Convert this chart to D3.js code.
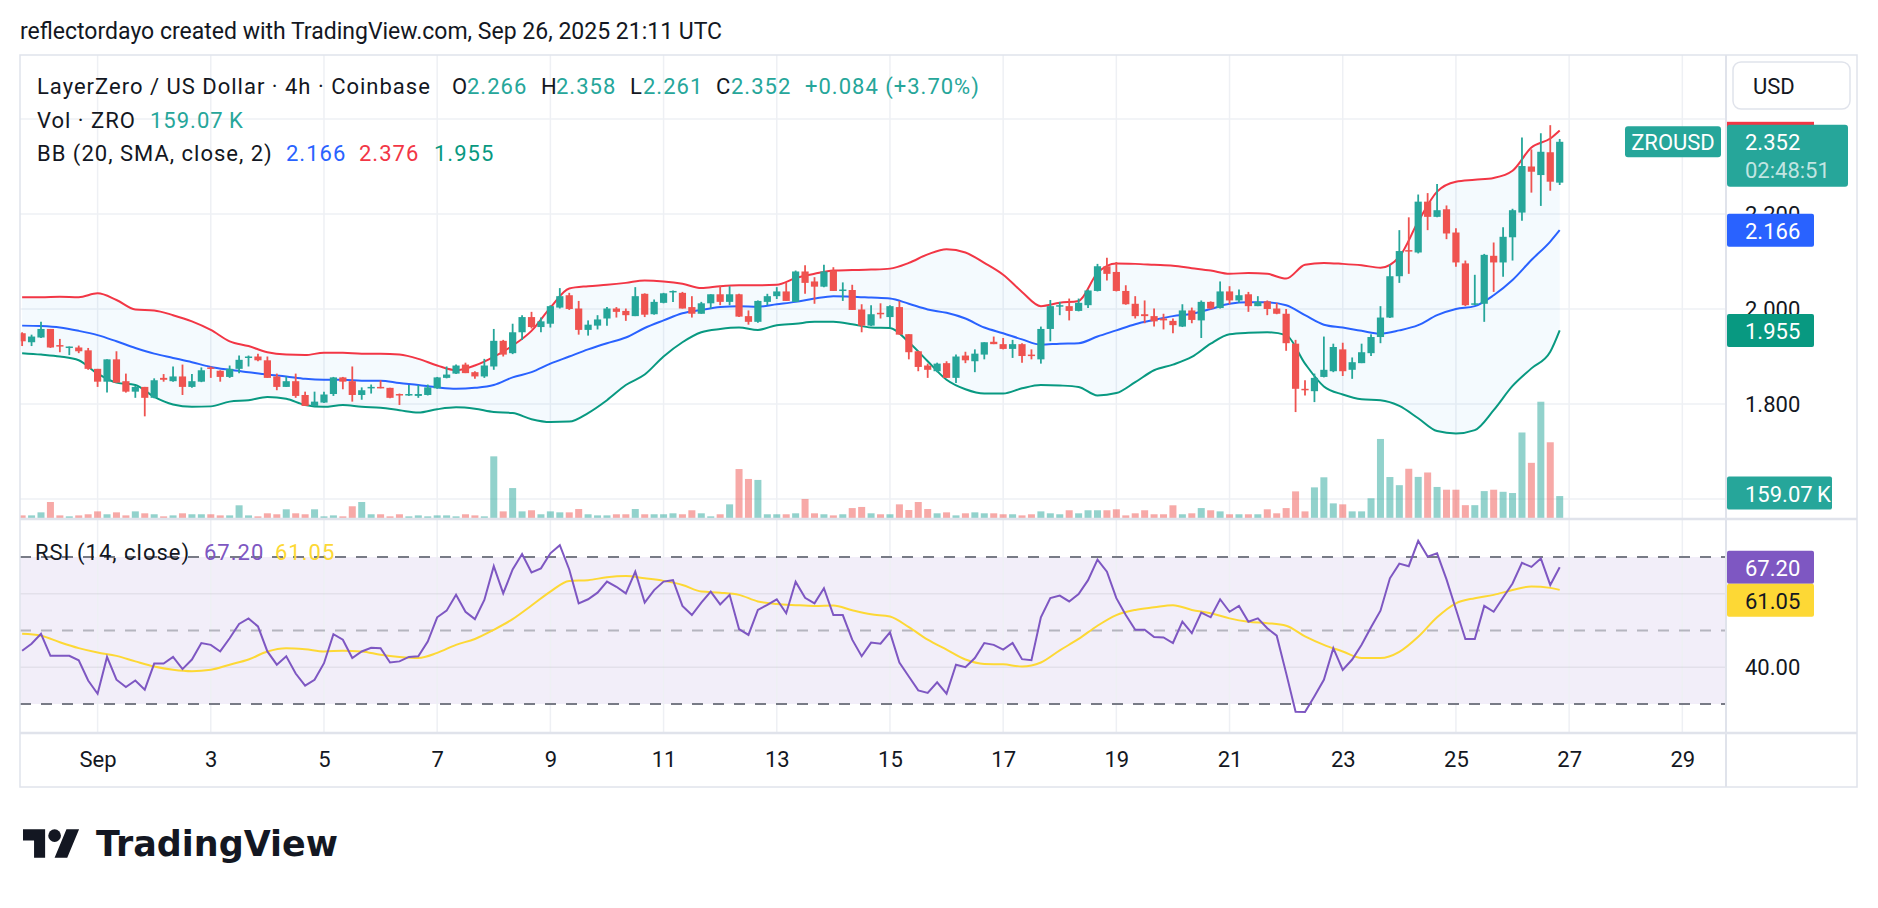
<!DOCTYPE html>
<html><head><meta charset="utf-8">
<script src="https://cdn.jsdelivr.net/npm/d3@7"></script>
<style>html,body{margin:0;padding:0;background:#fff;}svg{display:block;}</style>
</head><body>
<svg id="c" width="1878" height="908"></svg>
<script>
// ---------------- DATA ----------------
const firstCandleUTC = "2025-08-30T16:00:00Z"; // 4h candles
const open = [
1.949,1.930,1.940,1.958,1.924,1.918,1.919,1.913,1.874,1.847,
1.894,1.848,1.826,1.836,1.813,1.855,1.848,1.858,1.836,1.847,
1.877,1.870,1.857,1.874,1.897,1.900,1.892,1.858,1.836,1.848,
1.819,1.796,1.803,1.821,1.856,1.848,1.819,1.833,1.836,1.834,
1.821,1.818,1.817,1.819,1.833,1.855,1.864,1.883,1.867,1.858,
1.879,1.933,1.907,1.951,1.983,1.962,1.969,2.003,2.029,2.001,
1.956,1.965,1.980,2.001,1.996,1.985,2.032,1.989,2.013,2.035,
2.034,2.004,1.990,2.012,2.031,2.015,2.031,1.985,1.973,2.015,
2.027,2.037,2.015,2.079,2.058,2.047,2.081,2.039,2.040,1.999,
1.965,1.992,1.983,2.004,1.947,1.911,1.881,1.869,1.886,1.855,
1.902,1.890,1.904,1.931,1.926,1.916,1.926,1.904,1.894,1.958,
2.006,2.006,1.996,2.008,2.038,2.090,2.078,2.038,2.011,1.989,
1.985,1.980,1.975,1.963,1.997,1.976,2.015,2.002,2.037,2.018,
2.031,2.006,2.016,2.001,1.990,1.927,1.832,1.827,1.857,1.869,
1.915,1.872,1.886,1.907,1.941,1.982,2.069,2.124,2.119,2.226,
2.194,2.210,2.161,2.096,2.009,2.011,2.112,2.098,2.151,2.203,
2.300,2.282,2.330,2.266];
const high = [
1.951,1.946,1.973,1.958,1.937,1.921,1.923,1.918,1.874,1.894,
1.911,1.864,1.838,1.836,1.854,1.863,1.879,1.883,1.863,1.877,
1.879,1.871,1.881,1.902,1.902,1.906,1.900,1.864,1.858,1.864,
1.826,1.826,1.826,1.857,1.857,1.879,1.835,1.841,1.850,1.834,
1.822,1.840,1.840,1.841,1.857,1.879,1.883,1.887,1.869,1.895,
1.958,1.935,1.969,1.987,1.994,1.982,2.008,2.044,2.034,2.017,
1.976,1.987,2.004,2.004,2.001,2.046,2.033,2.020,2.034,2.039,
2.036,2.027,2.015,2.031,2.049,2.048,2.032,1.997,2.018,2.032,
2.046,2.055,2.081,2.092,2.067,2.093,2.088,2.056,2.051,2.010,
2.008,2.012,2.008,2.017,1.947,1.912,1.885,1.887,1.890,1.904,
1.910,1.915,1.930,1.942,1.939,1.935,1.928,1.915,1.963,2.019,
2.015,2.022,2.022,2.041,2.095,2.108,2.099,2.050,2.027,2.018,
2.001,1.990,1.980,2.010,2.003,2.018,2.016,2.058,2.048,2.041,
2.036,2.027,2.018,2.013,2.000,1.935,1.850,1.864,1.942,1.927,
1.929,1.898,1.927,1.947,2.006,2.093,2.166,2.193,2.241,2.244,
2.263,2.218,2.170,2.102,2.072,2.116,2.140,2.172,2.211,2.361,
2.336,2.370,2.387,2.358];
const low = [
1.922,1.922,1.939,1.918,1.909,1.903,1.907,1.872,1.836,1.824,
1.845,1.824,1.813,1.774,1.812,1.847,1.847,1.819,1.834,1.846,
1.855,1.847,1.855,1.865,1.879,1.890,1.855,1.829,1.836,1.813,
1.796,1.795,1.802,1.817,1.831,1.805,1.809,1.822,1.833,1.812,
1.798,1.817,1.813,1.818,1.832,1.854,1.863,1.865,1.853,1.855,
1.872,1.900,1.905,1.935,1.959,1.951,1.961,2.001,1.998,1.946,
1.944,1.957,1.965,1.982,1.975,1.985,1.983,1.988,2.012,2.015,
2.001,1.982,1.990,2.001,2.008,2.008,1.983,1.967,1.971,2.008,
2.021,2.017,2.015,2.032,2.011,2.046,2.038,2.017,1.998,1.951,
1.964,1.980,1.962,1.946,1.894,1.869,1.855,1.867,1.855,1.844,
1.886,1.867,1.894,1.926,1.915,1.897,1.887,1.894,1.885,1.932,
1.987,1.976,1.995,2.002,2.037,2.060,2.037,2.009,1.980,1.970,
1.963,1.957,1.949,1.962,1.970,1.939,1.999,2.001,2.010,2.013,
1.994,2.006,1.987,1.989,1.912,1.783,1.818,1.804,1.856,1.867,
1.859,1.853,1.886,1.901,1.928,1.981,2.055,2.074,2.117,2.166,
2.193,2.147,2.089,2.006,2.008,1.973,2.036,2.068,2.102,2.186,
2.245,2.217,2.249,2.261];
const close = [
1.932,1.942,1.958,1.919,1.921,1.921,1.911,1.874,1.847,1.894,
1.845,1.826,1.836,1.813,1.850,1.851,1.858,1.836,1.848,1.871,
1.874,1.857,1.874,1.893,1.900,1.892,1.855,1.836,1.848,1.817,
1.796,1.805,1.820,1.856,1.847,1.819,1.829,1.836,1.833,1.813,
1.818,1.821,1.821,1.835,1.856,1.862,1.881,1.865,1.858,1.881,
1.933,1.904,1.951,1.983,1.962,1.974,2.006,2.027,2.000,1.956,
1.967,1.978,2.001,1.994,1.987,2.027,1.988,2.015,2.033,2.038,
2.001,1.990,2.012,2.031,2.015,2.031,1.984,1.973,2.017,2.027,
2.037,2.017,2.079,2.055,2.047,2.079,2.038,2.041,1.998,1.965,
1.989,1.989,2.006,1.946,1.909,1.878,1.872,1.885,1.855,1.900,
1.892,1.906,1.930,1.926,1.916,1.926,1.901,1.901,1.958,2.006,
2.008,1.996,2.013,2.039,2.090,2.074,2.038,2.010,1.985,1.985,
1.974,1.976,1.966,1.997,1.977,2.015,2.001,2.037,2.018,2.029,
2.006,2.015,2.000,1.990,1.928,1.832,1.830,1.855,1.872,1.920,
1.869,1.888,1.909,1.941,1.982,2.069,2.122,2.121,2.226,2.194,
2.208,2.159,2.098,2.008,2.012,2.114,2.098,2.152,2.208,2.301,
2.289,2.331,2.268,2.352];
// volume in thousands of ZRO
const volume = [
19,19,41,116,19,12,19,27,48,27,
41,19,48,34,27,12,19,34,27,27,
27,19,19,92,19,12,34,27,63,34,
27,63,12,19,12,85,116,27,27,12,
27,12,19,12,19,19,12,27,19,12,
447,48,217,48,56,27,48,41,41,65,
27,19,19,27,27,65,27,27,27,34,
27,56,34,12,27,99,355,283,276,27,
27,27,34,138,34,27,19,27,72,80,
34,27,27,99,58,116,65,34,41,19,
34,41,34,34,27,27,19,27,48,34,
27,56,34,56,56,56,63,19,34,56,
27,27,92,27,34,72,56,48,27,27,
27,27,63,34,72,193,48,222,295,106,
99,48,48,143,573,297,238,357,298,330,
225,205,205,93,93,195,205,190,181,620,
400,843,549,159.07];
// Bollinger Bands (20, SMA, close, 2): sampled at every 2nd candle (0,2,...,162) plus the last candle (163)
const bbUpper = [
2.025,2.025,2.026,2.025,2.033,2.019,1.999,1.997,1.987,1.974,
1.956,1.932,1.922,1.909,1.904,1.903,1.908,1.908,1.906,1.906,
1.904,1.895,1.881,1.871,1.881,1.899,1.923,1.954,2.003,2.043,
2.048,2.051,2.055,2.060,2.058,2.053,2.044,2.048,2.050,2.050,
2.051,2.065,2.074,2.081,2.082,2.083,2.085,2.097,2.115,2.126,
2.119,2.097,2.072,2.036,2.006,2.013,2.017,2.076,2.096,2.095,
2.093,2.091,2.086,2.081,2.074,2.076,2.074,2.064,2.093,2.097,
2.095,2.092,2.087,2.110,2.184,2.247,2.268,2.272,2.276,2.291,
2.340,2.359,2.376];
const bbBasis = [
1.965,1.964,1.961,1.954,1.945,1.932,1.918,1.906,1.897,1.888,
1.878,1.872,1.867,1.862,1.858,1.853,1.851,1.851,1.849,1.849,
1.844,1.840,1.835,1.832,1.834,1.840,1.856,1.867,1.885,1.900,
1.915,1.928,1.940,1.960,1.976,1.991,1.998,2.004,2.006,2.005,
2.010,2.015,2.022,2.027,2.026,2.024,2.022,2.011,1.999,1.992,
1.980,1.961,1.949,1.936,1.925,1.927,1.928,1.942,1.955,1.968,
1.977,1.985,1.990,2.000,2.011,2.014,2.014,2.008,1.987,1.967,
1.961,1.954,1.948,1.955,1.966,1.987,2.000,2.006,2.029,2.061,
2.103,2.142,2.166];
const bbLower = [
1.907,1.904,1.900,1.892,1.864,1.845,1.840,1.815,1.799,1.794,
1.795,1.805,1.808,1.815,1.811,1.798,1.794,1.798,1.794,1.792,
1.787,1.782,1.789,1.793,1.790,1.783,1.781,1.768,1.762,1.763,
1.781,1.808,1.840,1.862,1.900,1.930,1.951,1.958,1.961,1.956,
1.966,1.969,1.973,1.973,1.968,1.961,1.960,1.930,1.890,1.851,
1.831,1.822,1.822,1.833,1.840,1.839,1.836,1.818,1.823,1.846,
1.871,1.883,1.899,1.927,1.947,1.950,1.951,1.945,1.885,1.837,
1.820,1.810,1.808,1.796,1.770,1.743,1.738,1.745,1.787,1.838,
1.875,1.910,1.955];
// RSI (14, close), one value per candle
const rsi = [
44.5,46.4,49.1,43.1,43.1,43.1,41.9,36.4,32.8,42.8,
36.6,34.6,36.4,33.9,41.0,41.0,42.8,39.5,42.1,46.6,
46.1,44.3,47.9,51.8,53.3,51.1,44.3,40.7,43.0,38.3,
35.0,36.6,41.1,49.0,47.5,42.5,44.3,45.3,45.2,41.3,
41.6,42.8,43.0,47.0,53.6,55.4,59.7,55.1,53.1,58.3,
67.5,60.1,66.6,70.8,65.8,66.9,71.0,73.2,66.6,57.4,
58.5,60.3,63.3,61.9,60.1,66.0,57.6,61.0,63.3,63.7,
56.7,54.2,57.6,60.6,57.1,59.7,50.4,48.8,55.6,57.0,
58.5,54.7,63.3,58.9,57.4,61.5,54.2,54.2,47.5,43.0,
46.7,46.4,49.5,41.3,37.5,33.7,33.0,35.9,32.8,40.7,
40.0,42.5,46.6,46.1,44.8,46.6,42.2,41.9,53.6,58.8,
59.5,57.9,59.9,63.7,69.3,66.0,58.8,54.2,50.2,50.2,
48.2,48.1,46.6,52.4,49.3,54.9,53.6,58.5,55.1,56.7,
52.4,53.3,50.6,48.6,38.4,27.9,27.8,32.1,36.6,45.2,
39.3,42.1,46.1,50.9,55.4,64.2,68.2,67.5,74.4,70.1,
71.0,63.9,55.8,47.7,47.7,56.7,55.1,59.0,62.8,68.4,
67.3,69.6,62.4,67.2];
// RSI-based MA, sampled like the bands (every 2nd candle + last)
const rsiMA = [
49.1,48.6,46.8,45.2,44.0,43.1,41.6,40.2,39.3,38.9,
39.3,40.7,42.1,44.3,45.2,44.9,44.3,44.5,44.3,43.4,
42.8,42.5,43.9,46.1,47.7,50.2,53.1,56.8,60.6,63.5,
63.7,64.5,64.8,64.2,63.5,62.4,60.6,60.3,59.7,57.9,
57.2,56.9,56.7,56.8,55.5,54.4,53.8,50.9,47.5,44.8,
42.1,40.9,40.8,40.2,41.3,44.6,47.7,51.3,54.2,55.6,
56.3,56.9,55.6,54.7,53.3,52.4,52.0,51.3,48.4,46.1,
44.3,42.5,42.5,44.2,48.3,53.6,57.4,58.8,59.7,61.0,
62.0,61.6,61.05];
const tickDays = [1,3,5,7,9,11,13,15,17,19,21,23,25,27,29];
const tickLabels = ["Sep","3","5","7","9","11","13","15","17","19","21","23","25","27","29"];
const priceGrid = [1.6,1.8,2.0,2.2,2.4];
const priceTicks = [1.8,2.0,2.2];
const rsiGrid = [40,60];
const rsiTicks = [40];
const rsiLevels = [70,50,30];
const lastQuote = {o:"2.266", h:"2.358", l:"2.261", c:"2.352", chg:"+0.084 (+3.70%)", vol:"159.07\u2009K", countdown:"02:48:51"};

// ---------------- LAYOUT ----------------
const FONT = 'Roboto, "Noto Sans", "DejaVu Sans", sans-serif';
const TXT = '#131722', GRID = '#eef0f4', BORDER = '#e0e3eb';
const UP = '#26a69a', DOWN = '#ef5350';
const L = 20, R = 1725, AXR = 1857, PT = 55, PB = 518, RT = 520, RB = 733, TB = 787;

const svg = d3.select('#c');
const t0 = new Date(firstCandleUTC).getTime();
const H4 = 4 * 3600e3, DAY = 864e5, SEP1 = Date.UTC(2025, 8, 1);
const n = close.length;
const dates = d3.range(n).map(i => new Date(t0 + i * H4));
const bbIdx = bbUpper.map((_, k) => k < bbUpper.length - 1 ? 2 * k : n - 1);

const x = d3.scaleUtc().domain([new Date(SEP1 - 1.371 * DAY), new Date(SEP1 + 28.754 * DAY)]).range([L, R]);
const y = d3.scaleLinear().domain([1.6, 2.4]).range([499, 119]);
const yv = d3.scaleLinear().domain([0, 870]).range([PB, PB - 120]);
const yr = d3.scaleLinear().domain([30, 70]).range([704, 557]);

const defs = svg.append('defs');
defs.append('clipPath').attr('id', 'cp').append('rect').attr('x', L).attr('y', PT).attr('width', R - L).attr('height', PB - PT);
defs.append('clipPath').attr('id', 'cr').append('rect').attr('x', L).attr('y', RT).attr('width', R - L).attr('height', RB - RT);

svg.append('rect').attr('width', 1878).attr('height', 908).attr('fill', '#fff');

// title
svg.append('text').attr('x', 20).attr('y', 31).attr('dominant-baseline', 'central')
  .attr('font-family', FONT).attr('font-size', 23).attr('fill', TXT)
  .text('reflectordayo created with TradingView.com, Sep 26, 2025 21:11 UTC');

const tickDates = tickDays.map(d => new Date(Date.UTC(2025, 8, d)));

// grids
const grid = svg.append('g');
grid.selectAll('line.vx').data(tickDates).join('line')
  .attr('x1', d => x(d)).attr('x2', d => x(d)).attr('y1', PT).attr('y2', RB)
  .attr('stroke', GRID).attr('stroke-width', 1.5);
grid.selectAll('line.hp').data(priceGrid).join('line')
  .attr('x1', L).attr('x2', R).attr('y1', d => y(d)).attr('y2', d => y(d))
  .attr('stroke', GRID).attr('stroke-width', 1.5);

// RSI band background
svg.append('rect').attr('x', L).attr('width', R - L).attr('y', yr(70)).attr('height', yr(30) - yr(70))
  .attr('fill', 'rgba(126,87,194,0.1)');
grid.raise();
svg.append('g').selectAll('line').data(rsiGrid).join('line')
  .attr('x1', L).attr('x2', R).attr('y1', d => yr(d)).attr('y2', d => yr(d))
  .attr('stroke', 'rgba(120,123,134,0.12)').attr('stroke-width', 1.5);

// price pane
const gp = svg.append('g').attr('clip-path', 'url(#cp)');
const bx = k => x(dates[bbIdx[k]]);
gp.append('path').datum(bbUpper)
  .attr('d', d3.area().x((d, k) => bx(k)).y0((d, k) => y(bbLower[k])).y1(d => y(d)).curve(d3.curveMonotoneX))
  .attr('fill', 'rgba(33,150,243,0.05)');
[[bbUpper, '#f23645'], [bbBasis, '#2962ff'], [bbLower, '#089981']].forEach(([arr, col]) => {
  gp.append('path').datum(arr)
    .attr('d', d3.line().x((d, k) => bx(k)).y(d => y(d)).curve(d3.curveMonotoneX))
    .attr('fill', 'none').attr('stroke', col).attr('stroke-width', 2);
});
// volume
gp.selectAll('rect.vol').data(d3.range(n)).join('rect')
  .attr('x', i => x(dates[i]) - 3.5).attr('width', 7)
  .attr('y', i => yv(volume[i])).attr('height', i => yv(0) - yv(volume[i]))
  .attr('fill', i => close[i] >= open[i] ? 'rgba(38,166,154,0.5)' : 'rgba(239,83,80,0.5)');
// candles
const cg = gp.selectAll('g.c').data(d3.range(n)).join('g');
cg.append('line')
  .attr('x1', i => x(dates[i])).attr('x2', i => x(dates[i]))
  .attr('y1', i => y(high[i])).attr('y2', i => y(low[i]))
  .attr('stroke', i => close[i] >= open[i] ? UP : DOWN).attr('stroke-width', 1.8);
cg.append('rect')
  .attr('x', i => x(dates[i]) - 3.6).attr('width', 7.2)
  .attr('y', i => y(Math.max(open[i], close[i])))
  .attr('height', i => Math.max(1.5, Math.abs(y(open[i]) - y(close[i]))))
  .attr('fill', i => close[i] >= open[i] ? UP : DOWN);

// RSI pane
const gr = svg.append('g').attr('clip-path', 'url(#cr)');
gr.selectAll('line.lv').data(rsiLevels).join('line')
  .attr('x1', L).attr('x2', R).attr('y1', d => yr(d)).attr('y2', d => yr(d))
  .attr('stroke', d => d === 50 ? 'rgba(120,123,134,0.5)' : '#787b86')
  .attr('stroke-width', 2).attr('stroke-dasharray', '11,10');
gr.append('path').datum(rsiMA)
  .attr('d', d3.line().x((d, k) => bx(k)).y(d => yr(d)).curve(d3.curveMonotoneX))
  .attr('fill', 'none').attr('stroke', '#fdd835').attr('stroke-width', 2);
gr.append('path').datum(rsi)
  .attr('d', d3.line().x((d, i) => x(dates[i])).y(d => yr(d)))
  .attr('fill', 'none').attr('stroke', '#7e57c2').attr('stroke-width', 2);

// frame lines
const fr = svg.append('g').attr('stroke', BORDER).attr('fill', 'none');
fr.append('rect').attr('x', L).attr('y', PT).attr('width', AXR - L).attr('height', TB - PT).attr('stroke-width', 1.5);
fr.append('line').attr('x1', L).attr('x2', AXR).attr('y1', PB + 1).attr('y2', PB + 1).attr('stroke-width', 2.5);
fr.append('line').attr('x1', L).attr('x2', AXR).attr('y1', RB).attr('y2', RB).attr('stroke-width', 2.5);
fr.append('line').attr('x1', R + 1).attr('x2', R + 1).attr('y1', PT).attr('y2', TB).attr('stroke-width', 2);

// axes
function styleAxis(g) {
  g.select('.domain').remove();
  g.selectAll('text').attr('font-family', FONT).attr('font-size', 22).attr('fill', TXT);
}
svg.append('g').attr('transform', `translate(0,${RB})`)
  .call(d3.axisBottom(x).tickValues(tickDates).tickFormat((d, i) => tickLabels[i]).tickSize(0).tickPadding(18))
  .call(styleAxis);
svg.append('g').attr('transform', 'translate(1745,0)')
  .call(d3.axisRight(y).tickValues(priceTicks).tickFormat(d3.format('.3f')).tickSize(0).tickPadding(0))
  .call(styleAxis);
svg.append('g').attr('transform', 'translate(1745,0)')
  .call(d3.axisRight(yr).tickValues(rsiTicks).tickFormat(d3.format('.2f')).tickSize(0).tickPadding(0))
  .call(styleAxis);

// axis labels (boxes)
function tag(yc, w, fill, text, color) {
  const h = 33, top = yc - h / 2;
  svg.append('rect').attr('x', 1727).attr('y', top).attr('width', w).attr('height', h).attr('rx', 2).attr('fill', fill);
  svg.append('text').attr('x', 1745).attr('y', yc + 1).attr('dominant-baseline', 'central')
    .attr('font-family', FONT).attr('font-size', 22).attr('fill', color).text(text);
  return top + h;
}
const lastY = y(+lastQuote.c);
// upper band tag (mostly hidden behind last price tag)
svg.append('rect').attr('x', 1727).attr('y', lastY - 20).attr('width', 87).attr('height', 24).attr('fill', '#f23645');
tag(y(bbBasis[bbBasis.length - 1]), 87, '#2962ff', d3.format('.3f')(bbBasis[bbBasis.length - 1]), '#fff');
tag(y(bbLower[bbLower.length - 1]), 87, '#089981', d3.format('.3f')(bbLower[bbLower.length - 1]), '#fff');
tag(yv(volume[n - 1]) - 3, 105, UP, lastQuote.vol, '#fff');
// last price tag with countdown
svg.append('rect').attr('x', 1727).attr('y', lastY - 17).attr('width', 121).attr('height', 62).attr('rx', 3).attr('fill', UP);
svg.append('text').attr('x', 1745).attr('y', lastY + 1).attr('dominant-baseline', 'central')
  .attr('font-family', FONT).attr('font-size', 22).attr('fill', '#fff').text(lastQuote.c);
svg.append('text').attr('x', 1745).attr('y', lastY + 29).attr('dominant-baseline', 'central')
  .attr('font-family', FONT).attr('font-size', 22).attr('fill', 'rgba(255,255,255,0.72)').text(lastQuote.countdown);
// symbol tag in plot
svg.append('rect').attr('x', 1625).attr('y', lastY - 15.5).attr('width', 96).attr('height', 31).attr('rx', 3).attr('fill', UP);
svg.append('text').attr('x', 1673).attr('y', lastY + 1).attr('dominant-baseline', 'central').attr('text-anchor', 'middle')
  .attr('font-family', FONT).attr('font-size', 22).attr('fill', '#fff').text('ZROUSD');
// RSI tags
const rsiLast = rsi[n - 1], maLast = rsiMA[rsiMA.length - 1];
const b1 = tag(yr(rsiLast), 87, '#7e57c2', d3.format('.2f')(rsiLast), '#fff');
tag(Math.max(yr(maLast), b1 + 16.5), 87, '#fdd835', d3.format('.2f')(maLast), TXT);

// USD button
svg.append('rect').attr('x', 1733).attr('y', 62).attr('width', 117).attr('height', 47).attr('rx', 8)
  .attr('fill', '#fff').attr('stroke', BORDER).attr('stroke-width', 1.5);
svg.append('text').attr('x', 1753).attr('y', 86).attr('dominant-baseline', 'central')
  .attr('font-family', FONT).attr('font-size', 22).attr('fill', TXT).text('USD');

// legends
function seg(xp, yp, text, color) {
  svg.append('text').attr('x', xp).attr('y', yp).attr('dominant-baseline', 'central')
    .attr('font-family', FONT).attr('font-size', 22).attr('letter-spacing', 1).attr('fill', color).text(text);
}
seg(37, 86, 'LayerZero / US Dollar \u00b7 4h \u00b7 Coinbase', TXT);
seg(452, 86, 'O', TXT); seg(467, 86, lastQuote.o, UP);
seg(541, 86, 'H', TXT); seg(556, 86, lastQuote.h, UP);
seg(630, 86, 'L', TXT); seg(643, 86, lastQuote.l, UP);
seg(716, 86, 'C', TXT); seg(731, 86, lastQuote.c, UP);
seg(805, 86, lastQuote.chg, UP);
seg(37, 120, 'Vol \u00b7 ZRO', TXT); seg(150, 120, lastQuote.vol, UP);
seg(37, 153, 'BB (20, SMA, close, 2)', TXT);
seg(286, 153, d3.format('.3f')(bbBasis[bbBasis.length - 1]), '#2962ff');
seg(359, 153, d3.format('.3f')(bbUpper[bbUpper.length - 1]), '#f23645');
seg(434, 153, d3.format('.3f')(bbLower[bbLower.length - 1]), '#089981');
seg(35, 552, 'RSI (14, close)', TXT);
seg(204, 552, d3.format('.2f')(rsiLast), '#7e57c2');
seg(275, 552, d3.format('.2f')(maLast), '#fdd835');

// TradingView logo
const lg = svg.append('g').attr('transform', 'translate(23,823) scale(1.58)').attr('fill', '#131722');
lg.append('path').attr('d', 'M14 22H7V11H0V4h14v18zM28 22h-8l7.5-18h8L28 22z');
lg.append('circle').attr('cx', 20).attr('cy', 8).attr('r', 4);
svg.append('text').attr('x', 96).attr('y', 856).attr('font-family', '"DejaVu Sans", sans-serif').attr('font-weight', 'bold')
  .attr('font-size', 35).attr('fill', '#131722').attr('textLength', 242).attr('lengthAdjust', 'spacingAndGlyphs').text('TradingView');
</script></body></html>
